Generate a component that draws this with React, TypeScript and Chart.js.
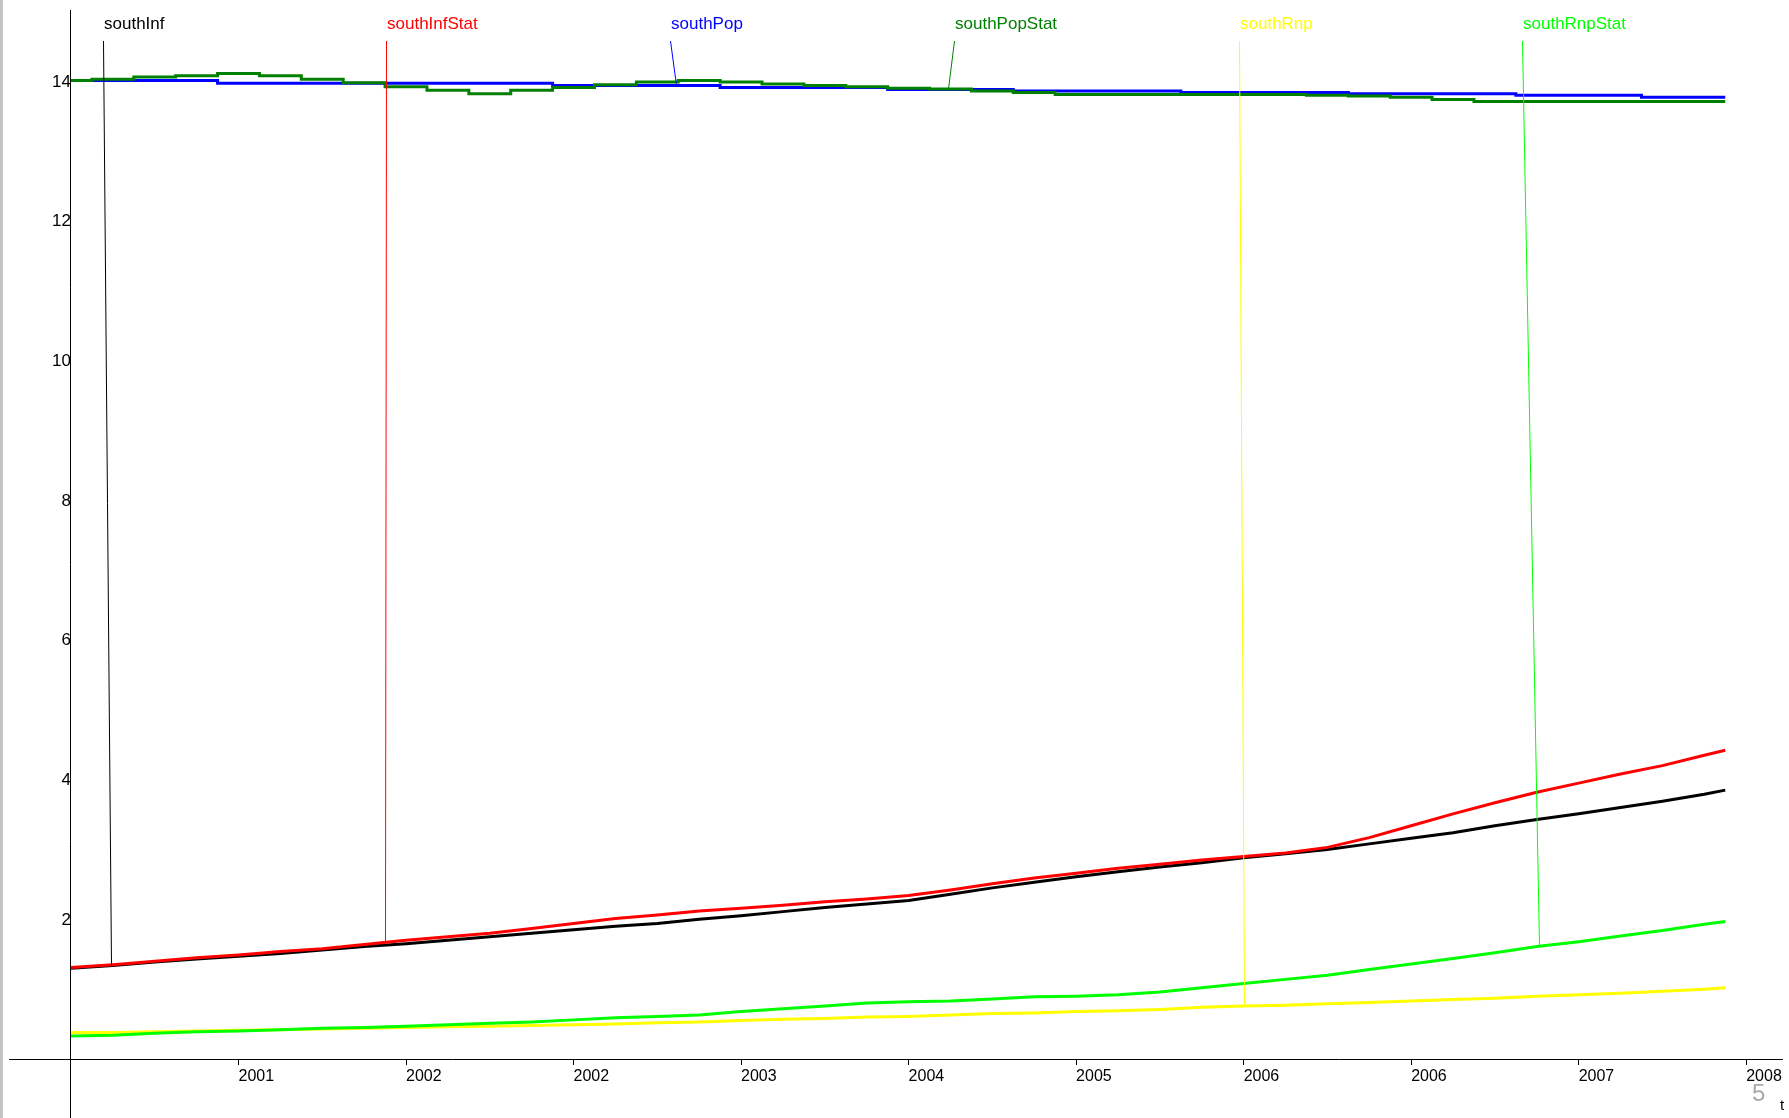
import React, { useEffect, useRef } from 'react';
import { Chart, registerables } from 'chart.js';

Chart.register(...registerables);

// ---- data ----
const years = [
  2000, 2000.2, 2000.4, 2000.6, 2000.8, 2001, 2001.2, 2001.4, 2001.6, 2001.8,
  2002, 2002.2, 2002.4, 2002.6, 2002.8, 2003, 2003.2, 2003.4, 2003.6, 2003.8,
  2004, 2004.2, 2004.4, 2004.6, 2004.8, 2005, 2005.2, 2005.4, 2005.6, 2005.8,
  2006, 2006.2, 2006.4, 2006.6, 2006.8, 2007, 2007.2, 2007.4, 2007.6, 2007.8, 2007.9,
];

const southInf = [
  1.31, 1.35, 1.40, 1.44, 1.48, 1.52, 1.57, 1.62, 1.66, 1.71,
  1.76, 1.81, 1.86, 1.91, 1.95, 2.01, 2.06, 2.12, 2.18, 2.23,
  2.28, 2.37, 2.46, 2.54, 2.62, 2.69, 2.76, 2.82, 2.89, 2.95,
  3.01, 3.09, 3.17, 3.25, 3.35, 3.44, 3.52, 3.61, 3.70, 3.80, 3.86,
];

const southInfStat = [
  1.32, 1.36, 1.41, 1.46, 1.50, 1.55, 1.59, 1.65, 1.71, 1.76,
  1.81, 1.88, 1.95, 2.02, 2.07, 2.13, 2.17, 2.21, 2.26, 2.30,
  2.35, 2.43, 2.52, 2.60, 2.67, 2.74, 2.80, 2.86, 2.91, 2.96,
  3.04, 3.18, 3.35, 3.52, 3.68, 3.83, 3.96, 4.09, 4.21, 4.36, 4.43,
];

const southPop = [
  14.02, 14.02, 14.02, 14.02, 13.98, 13.98, 13.98, 13.98, 13.98, 13.98,
  13.98, 13.98, 13.95, 13.95, 13.95, 13.95, 13.92, 13.92, 13.92, 13.92,
  13.89, 13.89, 13.89, 13.87, 13.87, 13.87, 13.87, 13.85, 13.85, 13.85,
  13.85, 13.83, 13.83, 13.83, 13.83, 13.81, 13.81, 13.81, 13.78, 13.78, 13.78,
];

const southPopStat = [
  14.02, 14.04, 14.07, 14.09, 14.12, 14.09, 14.04, 13.99, 13.93, 13.88,
  13.83, 13.88, 13.92, 13.96, 14.00, 14.02, 14.00, 13.97, 13.95, 13.93,
  13.91, 13.90, 13.87, 13.85, 13.82, 13.82, 13.82, 13.82, 13.82, 13.82,
  13.81, 13.80, 13.78, 13.75, 13.72, 13.72, 13.72, 13.72, 13.72, 13.72, 13.72,
];

const southRnp = [
  0.39, 0.39, 0.40, 0.41, 0.42, 0.43, 0.44, 0.45, 0.46, 0.47,
  0.48, 0.49, 0.50, 0.51, 0.53, 0.54, 0.56, 0.58, 0.59, 0.61,
  0.62, 0.64, 0.66, 0.67, 0.69, 0.70, 0.72, 0.75, 0.77, 0.78,
  0.80, 0.82, 0.84, 0.86, 0.88, 0.91, 0.93, 0.95, 0.98, 1.01, 1.03,
];

const southRnpStat = [
  0.34, 0.35, 0.38, 0.40, 0.41, 0.43, 0.45, 0.46, 0.48, 0.50,
  0.52, 0.54, 0.57, 0.60, 0.62, 0.64, 0.69, 0.73, 0.77, 0.81,
  0.83, 0.84, 0.87, 0.90, 0.91, 0.93, 0.97, 1.03, 1.09, 1.15,
  1.21, 1.29, 1.37, 1.45, 1.53, 1.62, 1.69, 1.77, 1.85, 1.94, 1.98,
];

const seriesNames = ['southInf', 'southInfStat', 'southPop', 'southPopStat', 'southRnp', 'southRnpStat'];
const seriesValues = [southInf, southInfStat, southPop, southPopStat, southRnp, southRnpStat];
const seriesColors = ['#000000', '#ff0000', '#0000ff', '#008000', '#ffff00', '#00ff00'];
const seriesStepped = [false, false, true, true, false, false];

// where each series name sits along the top, and where its leader line meets the curve
const labelYears = [2000.16, 2001.51, 2002.865, 2004.22, 2005.583, 2006.934];
const targetYears = [2000.19, 2001.5, 2002.89, 2004.19, 2005.6, 2007.01];

const xTickValues = [2000.8, 2001.6, 2002.4, 2003.2, 2004.0, 2004.8, 2005.6, 2006.4, 2007.2, 2008.0];
const xTickLabels = ['2001', '2002', '2002', '2003', '2004', '2005', '2006', '2006', '2007', '2008'];
const yTickValues = [2, 4, 6, 8, 10, 12, 14];

const FONT = '"Liberation Sans", Arial, Helvetica, sans-serif';

function valueAt(vals: number[], t: number): number {
  for (let i = 0; i < years.length - 1; i++) {
    if (t >= years[i] && t <= years[i + 1]) {
      const f = (t - years[i]) / (years[i + 1] - years[i]);
      return vals[i] + (vals[i + 1] - vals[i]) * f;
    }
  }
  return vals[vals.length - 1];
}

const annotPlugin = {
  id: 'seriesAnnotations',
  afterDatasetsDraw(chart: any) {
    const { ctx } = chart;
    const xs = chart.scales.x;
    const ys = chart.scales.y;
    ctx.save();
    ctx.font = `17px ${FONT}`;
    ctx.textBaseline = 'alphabetic';
    ctx.textAlign = 'left';
    seriesNames.forEach((name, i) => {
      const lx = Math.round(xs.getPixelForValue(labelYears[i]));
      const tx = Math.round(xs.getPixelForValue(targetYears[i]));
      const ty = ys.getPixelForValue(valueAt(seriesValues[i], targetYears[i]));
      ctx.strokeStyle = seriesColors[i];
      ctx.lineWidth = 1;
      ctx.beginPath();
      ctx.moveTo(lx - 0.5, 41);
      ctx.lineTo(tx + 0.5, ty);
      ctx.stroke();
      ctx.fillStyle = seriesColors[i];
      ctx.fillText(name, lx, 29);
    });
    ctx.fillStyle = '#000000';
    ctx.font = `15px ${FONT}`;
    ctx.fillText('t', 1780, 1110);
    ctx.fillStyle = '#a8a8a8';
    ctx.font = `24px ${FONT}`;
    ctx.fillText('5', 1752, 1101);
    ctx.restore();
  },
};

export default function App() {
  const canvasRef = useRef<HTMLCanvasElement | null>(null);

  useEffect(() => {
    document.body.style.margin = '0';
    const canvas = canvasRef.current;
    if (!canvas) return;
    const chart = new Chart(canvas, {
      type: 'line',
      data: {
        datasets: seriesNames.map((name, i) => ({
          label: name,
          data: years.map((t, j) => ({ x: t, y: seriesValues[i][j] })),
          borderColor: seriesColors[i],
          backgroundColor: seriesColors[i],
          borderWidth: 3,
          pointRadius: 0,
          tension: 0,
          stepped: seriesStepped[i] ? 'middle' : false,
          fill: false,
          order: seriesNames.length - i,
        })),
      },
      options: {
        animation: false,
        responsive: true,
        maintainAspectRatio: false,
        devicePixelRatio: 1,
        layout: { padding: { top: 10, left: 9, right: 7, bottom: 0 } },
        plugins: {
          legend: { display: false },
          tooltip: { enabled: false },
          title: { display: false },
        },
        scales: {
          x: {
            type: 'linear',
            min: 1999.704,
            max: 2008.171,
            position: { y: 0 } as any,
            grid: {
              display: true,
              drawOnChartArea: false,
              drawTicks: true,
              tickLength: 5,
              color: '#000000',
              lineWidth: 1,
            },
            border: { display: true, color: '#000000', width: 1 },
            ticks: {
              align: 'start',
              padding: 2,
              color: '#000000',
              font: { size: 16, family: FONT },
              maxRotation: 0,
              minRotation: 0,
              autoSkip: false,
              callback: (_v: any, idx: number) => xTickLabels[idx],
            },
            afterBuildTicks: (s: any) => {
              s.ticks = xTickValues.map((v) => ({ value: v }));
            },
            afterFit: (s: any) => {
              s.paddingLeft = 0;
              s.paddingRight = 0;
              s.paddingTop = 0;
              s.paddingBottom = 0;
            },
          },
          y: {
            type: 'linear',
            min: -0.835,
            max: 15.03,
            position: { x: 2000 } as any,
            grid: { display: false },
            border: { display: true, color: '#000000', width: 1 },
            ticks: {
              padding: 0,
              color: '#000000',
              font: { size: 17, family: FONT },
              autoSkip: false,
              callback: (v: any) => String(v),
            },
            afterBuildTicks: (s: any) => {
              s.ticks = yTickValues.map((v) => ({ value: v }));
            },
            afterFit: (s: any) => {
              s.paddingLeft = 0;
              s.paddingRight = 0;
              s.paddingTop = 0;
              s.paddingBottom = 0;
            },
          },
        },
      },
      plugins: [annotPlugin],
    });
    return () => chart.destroy();
  }, []);

  return (
    <div style={{ position: 'fixed', left: 0, top: 0, width: 1789, height: 1118, background: '#ffffff' }}>
      <canvas ref={canvasRef} />
      <div style={{ position: 'absolute', left: 0, top: 0, width: 3, height: 1118, background: '#c4c4c4' }} />
    </div>
  );
}
